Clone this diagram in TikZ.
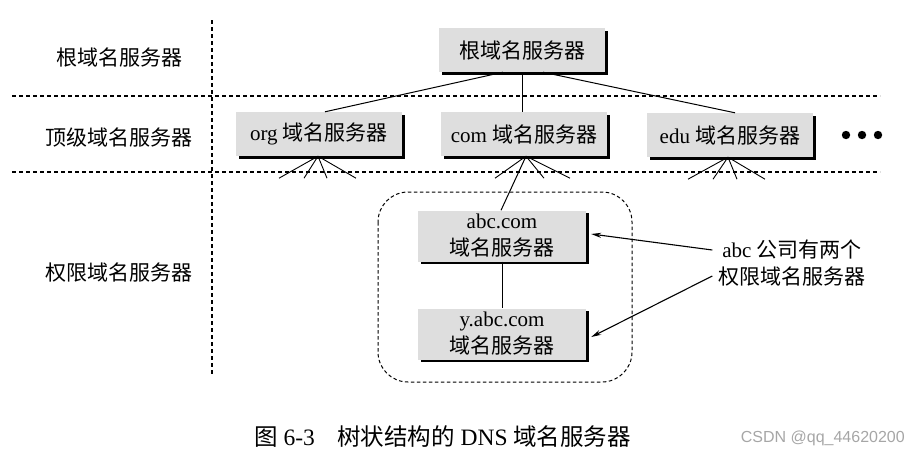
\documentclass[tikz,border=0pt]{standalone}
\usepackage{fontspec}
\setmainfont{Liberation Serif}
\newfontfamily\cjk{Noto Sans CJK SC}
\newfontfamily\wmfont{Liberation Sans}
\usetikzlibrary{shadows,arrows.meta}
\begin{document}
\begin{tikzpicture}[x=1pt,y=-1pt,
  srv/.style={fill=gray!26, drop shadow={shadow xshift=2.5pt, shadow yshift=-2.5pt, opacity=1, fill=black},
    minimum width=166pt, minimum height=44pt, inner sep=0pt, align=center,
    font=\fontsize{21}{27}\selectfont},
  lowsrv/.style={srv, minimum width=168pt, minimum height=51pt},
  lbl/.style={font=\fontsize{21}{27}\selectfont\cjk, inner sep=0pt, align=center},
  sep/.style={line width=1.2pt, dash pattern=on 4pt off 3pt},
  link/.style={line width=1pt},
  fan/.style={line width=0.9pt},
  pointer/.style={line width=1.1pt, -{Stealth[length=10pt,width=5pt]}},
]
\useasboundingbox (0,0) rectangle (918,456);

% separators
\coordinate (h1l) at (12,96);  \coordinate (h1r) at (880,96);
\coordinate (h2l) at (12,172); \coordinate (h2r) at (880,172);
\coordinate (vt) at (212,20);  \coordinate (vb) at (212,376);
\draw[sep] (h1l) -- (h1r);
\draw[sep] (h2l) -- (h2r);
\draw[sep] (vt) -- (vb);

% left labels
\node[lbl] (l1) at (119,57) {根域名服务器};
\node[lbl] (l2) at (119,138) {顶级域名服务器};
\node[lbl] (l3) at (119,273) {权限域名服务器};

% authoritative group
\draw[line width=1pt, dash pattern=on 3.5pt off 2.5pt, rounded corners=30pt] (378,192) rectangle (632,382);

% servers
\node[srv] (root) at (522,50) {{\cjk 根域名服务器}};
\node[srv] (org) at (319,134) {org {\cjk 域名服务器}};
\node[srv] (com) at (524,134) {com {\cjk 域名服务器}};
\node[srv] (edu) at (730,135) {edu {\cjk 域名服务器}};
\node[lowsrv] (abc) at (502,236) {abc.com\\{\cjk 域名服务器}};
\node[lowsrv] (yabc) at (502,334) {y.abc.com\\{\cjk 域名服务器}};

% dots
\foreach \i/\xx in {1/846,2/862,3/878}
  \fill (\xx,135) circle (4.2pt) coordinate (dot\i);

% root links
\draw[link] ([xshift=-19pt]root.south) -- ([xshift=6pt]org.north);
\draw[link] (root.south) -- (root.south |- com.north);
\draw[link] ([xshift=21pt]root.south) -- ([xshift=5pt]edu.north);

% fans
\foreach \dx in {-39,-14,9,38}
  \draw[fan] ([xshift=-1pt]org.south) -- ++(\dx,22);
\foreach \dx in {-31,18,44}
  \draw[fan] ([xshift=2pt]com.south) -- ++(\dx,22);
\draw[link] ([xshift=2pt]com.south) -- ([xshift=-1pt]abc.north);
\foreach \dx in {-40,-15,9,37}
  \draw[fan] ([xshift=-2pt]edu.south) -- ++(\dx,22);

\draw[link] (abc.south) -- (yabc.north);

% note
\node[font=\fontsize{21}{27}\selectfont, align=center, inner sep=0pt] (note) at (792,263)
  {abc {\cjk 公司有两个}\\{\cjk 权限域名服务器}};
\draw[pointer] ([xshift=-6pt,yshift=13pt]note.west) -- ([xshift=5pt,yshift=2pt]abc.east);
\draw[pointer] ([xshift=-6pt,yshift=-13pt]note.west) -- ([xshift=5pt,yshift=-3pt]yabc.east);

% caption
\node[font=\fontsize{23.5}{27}\selectfont, inner sep=0pt, anchor=west] (cap) at (254,437)
  {{\cjk 图} 6-3\hspace{0.95em}{\cjk 树状结构的} DNS {\cjk 域名服务器}};
\node[font=\fontsize{16}{18}\wmfont, text=gray!70, inner sep=0pt, anchor=east] (wm) at (905,438)
  {CSDN @qq\_44620200};
\end{tikzpicture}
\end{document}
